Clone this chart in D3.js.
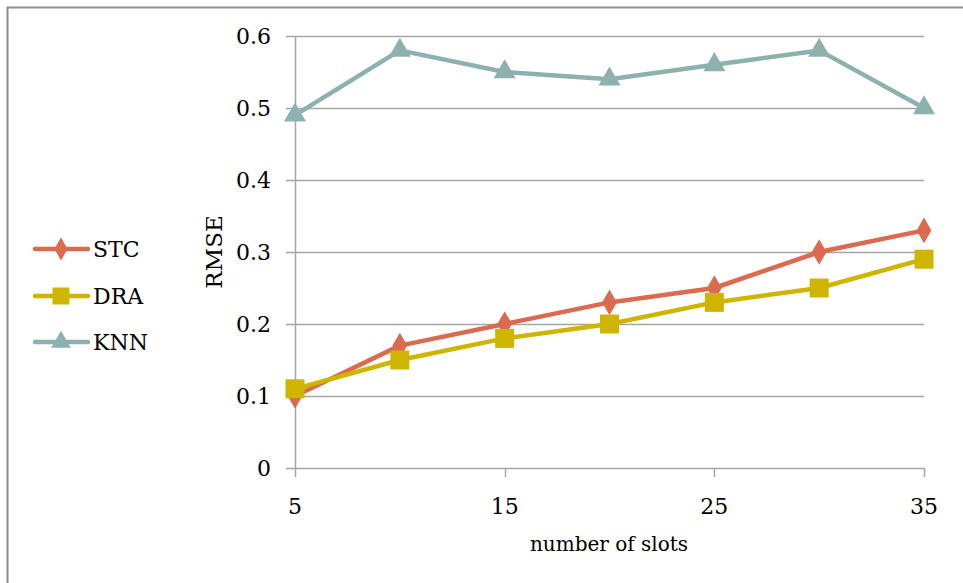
<!DOCTYPE html>
<html>
<head>
<meta charset="utf-8">
<script src="https://cdn.jsdelivr.net/npm/d3@7"></script>
<style>
  body { margin: 0; background: #fff; }
  svg text { font-family: "DejaVu Serif", "Liberation Serif", serif; fill: #000; }
</style>
</head>
<body>
<svg id="chart" width="963" height="583"></svg>
<script>
// données
var slots = [5, 10, 15, 20, 25, 30, 35];
var stc = [0.10, 0.17, 0.20, 0.23, 0.25, 0.30, 0.33];
var dra = [0.11, 0.15, 0.18, 0.20, 0.23, 0.25, 0.29];
var knn = [0.49, 0.58, 0.55, 0.54, 0.56, 0.58, 0.50];
var xTicks = [5, 15, 25, 35];
var yTicks = [0, 0.1, 0.2, 0.3, 0.4, 0.5, 0.6];

var series = [
  {name: "STC", values: stc, color: "#dc6a4e", symbol: d3.symbolDiamond, size: 190},
  {name: "DRA", values: dra, color: "#cfb400", symbol: d3.symbolSquare, size: 360},
  {name: "KNN", values: knn, color: "#8db1ae", symbol: d3.symbolTriangle, size: 210}
];

var svg = d3.select("#chart");

// cadre gris
svg.append("rect")
  .attr("x", 7.5).attr("y", 7.5)
  .attr("width", 1000).attr("height", 1000)
  .attr("fill", "none").attr("stroke", "#8c8c8c").attr("stroke-width", 2);

var xScale = d3.scaleLinear().domain([5, 35]).range([295, 924]);
var yScale = d3.scaleLinear().domain([0, 0.6]).range([468, 36]);

// grille horizontale + graduations de l'axe y
var grid = svg.append("g");
grid.selectAll("line")
  .data(yTicks)
  .enter().append("line")
  .attr("x1", 286).attr("x2", xScale(35))
  .attr("y1", d => Math.round(yScale(d)) + 0.5)
  .attr("y2", d => Math.round(yScale(d)) + 0.5)
  .attr("stroke", "#a6a6a6").attr("stroke-width", 1.5);

// axe y
svg.append("line")
  .attr("x1", xScale(5) + 0.5).attr("x2", xScale(5) + 0.5)
  .attr("y1", yScale(0.6)).attr("y2", yScale(0))
  .attr("stroke", "#a6a6a6").attr("stroke-width", 1.5);

svg.append("g").selectAll("text")
  .data(yTicks)
  .enter().append("text")
  .attr("x", 271)
  .attr("y", d => yScale(d) + 8)
  .attr("text-anchor", "end")
  .style("font-size", "22px")
  .text(d => d === 0 ? "0" : d3.format(".1f")(d));

// graduations de l'axe x
svg.append("g").selectAll("line")
  .data(xTicks)
  .enter().append("line")
  .attr("x1", d => Math.round(xScale(d)) + 0.5)
  .attr("x2", d => Math.round(xScale(d)) + 0.5)
  .attr("y1", yScale(0)).attr("y2", yScale(0) + 9)
  .attr("stroke", "#a6a6a6").attr("stroke-width", 1.5);

svg.append("g").selectAll("text")
  .data(xTicks)
  .enter().append("text")
  .attr("x", d => xScale(d))
  .attr("y", 514)
  .attr("text-anchor", "middle")
  .style("font-size", "22px")
  .text(d => d);

// titres des axes
svg.append("text")
  .attr("x", 609).attr("y", 551)
  .attr("text-anchor", "middle")
  .style("font-size", "20px")
  .text("number of slots");

svg.append("text")
  .attr("transform", "translate(222, 252) rotate(-90)")
  .attr("text-anchor", "middle")
  .style("font-size", "23px")
  .text("RMSE");

// courbes et marqueurs
var line = d3.line()
  .x((d, i) => xScale(slots[i]))
  .y(d => yScale(d));

series.forEach(function(s) {
  svg.append("path")
    .attr("d", line(s.values))
    .attr("fill", "none")
    .attr("stroke", s.color)
    .attr("stroke-width", 4.5)
    .attr("stroke-linejoin", "round");

  svg.append("g").selectAll("path")
    .data(s.values)
    .enter().append("path")
    .attr("d", d3.symbol().type(s.symbol).size(s.size))
    .attr("transform", (d, i) => `translate(${xScale(slots[i])}, ${yScale(d)})`)
    .attr("fill", s.color);
});

// légende
var legendY = [249, 296, 342];
var legend = svg.append("g").selectAll("g")
  .data(series)
  .enter().append("g")
  .attr("transform", (d, i) => `translate(0, ${legendY[i]})`);

legend.append("line")
  .attr("x1", 35).attr("x2", 88)
  .attr("stroke", d => d.color)
  .attr("stroke-width", 4.5)
  .attr("stroke-linecap", "round");

legend.append("path")
  .attr("d", d => d3.symbol().type(d.symbol).size(d.size * 0.8)())
  .attr("transform", "translate(61, 0)")
  .attr("fill", d => d.color);

legend.append("text")
  .attr("x", 93)
  .attr("y", 8)
  .style("font-size", "22px")
  .text(d => d.name);
</script>
</body>
</html>
